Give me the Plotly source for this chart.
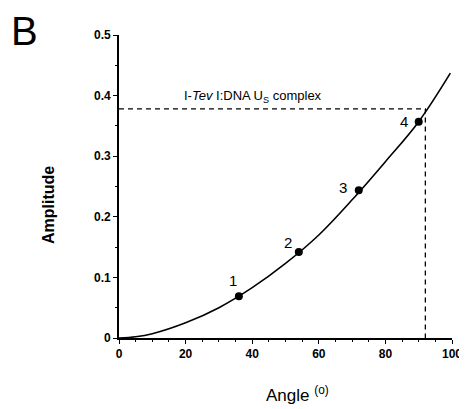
import plotly.graph_objects as go

# Fitted curve
curve_angle = [0, 5, 10, 20, 30, 40, 50, 60, 70, 80, 90, 99.5]
curve_amp = [0, 0.002, 0.007, 0.025, 0.050, 0.083, 0.123, 0.170, 0.228, 0.291, 0.357, 0.437]

# Measured points
pt_angle = [36, 54, 72, 90]
pt_amp = [0.069, 0.142, 0.244, 0.357]
pt_labels = ["1", "2", "3", "4"]

# Complex reference
complex_angle = 92
complex_amp = 0.378
complex_label = "I-<i>Tev</i> I:DNA U<sub>S</sub> complex"

x_ticks = [0, 20, 40, 60, 80, 100]
y_ticks = [0, 0.1, 0.2, 0.3, 0.4, 0.5]
y_ticktext = ["0", "0.1", "0.2", "0.3", "0.4", "0.5"]

OFF = 8  # page body margin
W, H = 467, 409
# desired plot area in window pixels
X0, X1, Y0, Y1 = 119, 452, 35, 338
L, T = X0 - OFF, Y0 - OFF
R, B = W - (X1 - OFF), H - (Y1 - OFF)
PW, PH = X1 - X0, Y1 - Y0


def px(xp):
    return (xp - X0) / PW


def py(yp):
    return (Y1 - yp) / PH


fig = go.Figure()
fig.add_trace(go.Scatter(x=curve_angle, y=curve_amp, mode="lines",
                         line=dict(color="black", width=1.6, shape="spline"),
                         showlegend=False, hoverinfo="skip"))
fig.add_trace(go.Scatter(x=[0, complex_angle, complex_angle],
                         y=[complex_amp, complex_amp, 0], mode="lines",
                         line=dict(color="black", width=1.3, dash="5px,4px"),
                         showlegend=False, hoverinfo="skip"))
fig.add_trace(go.Scatter(x=pt_angle, y=pt_amp, mode="markers",
                         marker=dict(color="black", size=8),
                         showlegend=False))

shifts = [(-6, 16), (-11, 9), (-16, 3), (-15, 0)]
for xv, yv, t, (dx, dy) in zip(pt_angle, pt_amp, pt_labels, shifts):
    fig.add_annotation(x=xv, y=yv, text=t, showarrow=False, xshift=dx, yshift=dy,
                       font=dict(family="Liberation Sans", size=15, color="black"))

fig.add_annotation(x=0, y=complex_amp, xref="x", yref="y", text=complex_label,
                   showarrow=False, xanchor="left", yanchor="bottom",
                   xshift=63, yshift=2,
                   font=dict(family="Liberation Sans", size=13, color="black"))

fig.add_annotation(x=px(25), y=py(31), xref="paper", yref="paper", text="B",
                   showarrow=False, xanchor="center", yanchor="middle", borderpad=0,
                   font=dict(family="Liberation Sans", size=40, color="black"))

fig.add_annotation(x=px(48), y=py(205), xref="paper", yref="paper",
                   text="<b>Amplitude</b>", textangle=-90, showarrow=False,
                   xanchor="center", yanchor="middle",
                   font=dict(family="Liberation Sans", size=16, color="black"))

fig.add_annotation(x=px(297), y=py(394), xref="paper", yref="paper",
                   text="Angle <sup>(o)</sup>", showarrow=False,
                   xanchor="center", yanchor="middle",
                   font=dict(family="Liberation Sans", size=17, color="black"))

fig.update_layout(
    width=W, height=H,
    margin=dict(l=L, r=R, t=T, b=B),
    paper_bgcolor="white", plot_bgcolor="white",
    font=dict(family="Liberation Sans", color="black"),
    xaxis=dict(range=[0, 100], tickvals=x_ticks, ticks="outside", ticklen=4,
               tickwidth=1.3, tickcolor="black", showline=True, linecolor="black",
               linewidth=1.6, showgrid=False, zeroline=False, automargin=False,
               tickfont=dict(family="Liberation Sans", size=12, color="black", weight="bold"),
               minor=dict(dtick=5, ticks="outside", ticklen=2, tickcolor="black")),
    yaxis=dict(range=[0, 0.5], tickvals=y_ticks, ticktext=y_ticktext, ticks="outside",
               ticklen=4, tickwidth=1.3, tickcolor="black", showline=True,
               linecolor="black", linewidth=1.6, showgrid=False, zeroline=False,
               automargin=False,
               tickfont=dict(family="Liberation Sans", size=12, color="black", weight="bold"),
               minor=dict(dtick=0.05, ticks="outside", ticklen=2, tickcolor="black")),
)

fig.write_html("out.html")
